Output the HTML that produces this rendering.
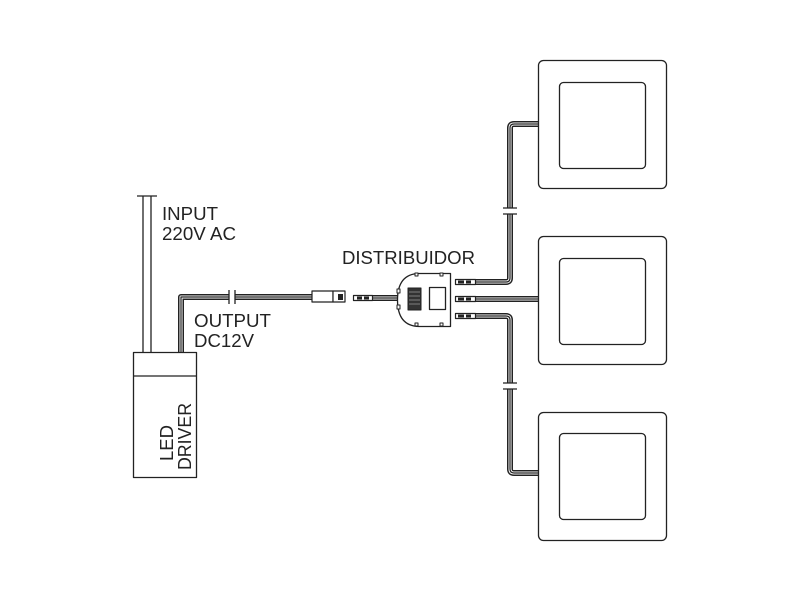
<!DOCTYPE html>
<html><head><style>body{margin:0;background:#fff}svg{display:block}</style></head><body>
<svg width="800" height="600" xmlns="http://www.w3.org/2000/svg" font-family="Liberation Sans, Arial, sans-serif">
<rect width="800" height="600" fill="#fff"/>
<g fill="none" stroke-linejoin="round">
<g id="c">
<path d="M181,352 V297 H315 M373,298 H398 M476,282 H506 Q510,282 510,278 V128 Q510,124 514,124 H538 M476,299 H538 M476,316 H506 Q510,316 510,320 V469 Q510,473 514,473 H538" stroke="#222" stroke-width="6"/>
<path d="M181,352 V297 H315 M373,298 H398 M476,282 H506 Q510,282 510,278 V128 Q510,124 514,124 H538 M476,299 H538 M476,316 H506 Q510,316 510,320 V469 Q510,473 514,473 H538" stroke="#fff" stroke-width="3"/>
<path d="M181,352 V297 H315 M373,298 H398 M476,282 H506 Q510,282 510,278 V128 Q510,124 514,124 H538 M476,299 H538 M476,316 H506 Q510,316 510,320 V469 Q510,473 514,473 H538" stroke="#222" stroke-width="1.2"/>
</g>
<rect x="229" y="290" width="6" height="14" fill="#fff" stroke="none"/>
<path d="M229,290 V304 M235,290 V304" stroke="#222" stroke-width="1.3"/>
<rect x="503" y="208" width="14" height="6" fill="#fff" stroke="none"/>
<path d="M503,208 H517 M503,214 H517" stroke="#222" stroke-width="1.3"/>
<rect x="503" y="383" width="14" height="6" fill="#fff" stroke="none"/>
<path d="M503,383 H517 M503,389 H517" stroke="#222" stroke-width="1.3"/>
<path d="M143,196 V352 M151,196 V352 M137,196 H157" stroke="#222" stroke-width="1.3"/>
<rect x="133.5" y="352.5" width="63" height="125" stroke="#222" stroke-width="1.3"/>
<path d="M133.5,376 H196.5" stroke="#222" stroke-width="1.3"/>
<rect x="312" y="291" width="21" height="11" fill="#fff" stroke="#222" stroke-width="1.2"/>
<rect x="333" y="291" width="12" height="11" fill="#fff" stroke="#222" stroke-width="1.2"/>
<rect x="338" y="294" width="5" height="6" fill="#222" stroke="none"/>
<rect x="353.5" y="295.5" width="19" height="5" fill="#fff" stroke="#222" stroke-width="1.2"/>
<rect x="357" y="296.5" width="5" height="3" fill="#222" stroke="none"/>
<rect x="364" y="296.5" width="5" height="3" fill="#222" stroke="none"/>
<g stroke="#222" stroke-width="1.2" fill="#fff">
<rect x="455.5" y="279.5" width="20" height="5"/><rect x="455.5" y="296.5" width="20" height="5"/><rect x="455.5" y="313.5" width="20" height="5"/>
</g>
<g fill="#222"><rect x="458" y="280.5" width="6" height="3"/><rect x="466" y="280.5" width="5" height="3"/><rect x="458" y="297.5" width="6" height="3"/><rect x="466" y="297.5" width="5" height="3"/><rect x="458" y="314.5" width="6" height="3"/><rect x="466" y="314.5" width="5" height="3"/></g>
<path d="M450.5,273.5 V326.5 H419 Q397.5,326 397.5,300 Q397.5,274 419,273.5 Z" fill="#fff" stroke="#222" stroke-width="1.3"/>
<rect x="408" y="288" width="13" height="22" fill="#333" stroke="#222" stroke-width="1"/>
<path d="M409,292 H420 M409,296 H420 M409,300 H420 M409,304 H420" stroke="#999" stroke-width="0.8"/>
<rect x="429.5" y="287.5" width="16" height="22" stroke="#222" stroke-width="1.3"/>
<g stroke="#222" stroke-width="1" fill="#fff"><rect x="415" y="273" width="3" height="3"/><rect x="440" y="273" width="3" height="3"/><rect x="415" y="323" width="3" height="3"/><rect x="440" y="323" width="3" height="3"/><rect x="397" y="289" width="3" height="4"/><rect x="397" y="305" width="3" height="4"/></g>
<g stroke="#222" stroke-width="1.3">
<rect x="538.5" y="60.5" width="128" height="128" rx="5"/><rect x="559.5" y="82.5" width="86" height="86" rx="4"/>
<rect x="538.5" y="236.5" width="128" height="128" rx="5"/><rect x="559.5" y="258.5" width="86" height="86" rx="4"/>
<rect x="538.5" y="412.5" width="128" height="128" rx="5"/><rect x="559.5" y="433.5" width="86" height="86" rx="4"/>
</g>
</g>
<g font-size="18" fill="#222">
<text x="162" y="220" textLength="56" lengthAdjust="spacingAndGlyphs">INPUT</text><text x="162" y="240" textLength="74" lengthAdjust="spacingAndGlyphs">220V AC</text>
<text x="194" y="327" textLength="77" lengthAdjust="spacingAndGlyphs">OUTPUT</text><text x="194" y="347" textLength="60" lengthAdjust="spacingAndGlyphs">DC12V</text>
<text x="342" y="264" textLength="133" lengthAdjust="spacingAndGlyphs">DISTRIBUIDOR</text>
<text transform="translate(173,461) rotate(-90)" textLength="36" lengthAdjust="spacingAndGlyphs">LED</text>
<text transform="translate(191,470) rotate(-90)" textLength="67" lengthAdjust="spacingAndGlyphs">DRIVER</text>
</g>
</svg>
</body></html>
